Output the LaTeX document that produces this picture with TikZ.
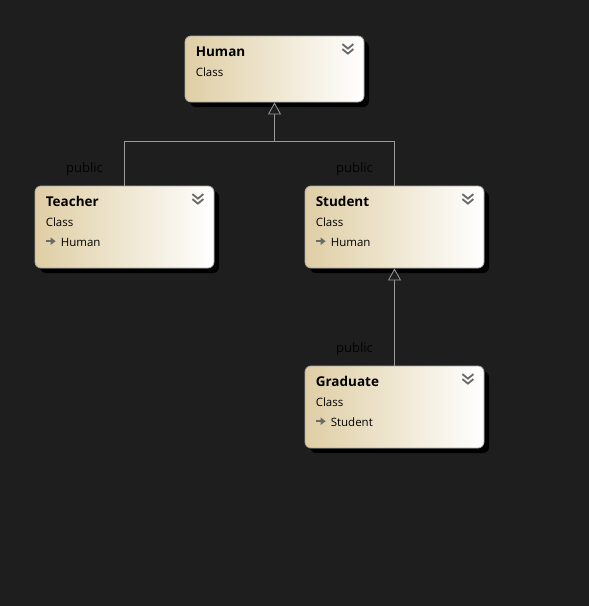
\documentclass[tikz,border=0pt]{standalone}
\usepackage{fontspec}
\setmainfont{Open Sans}
\usetikzlibrary{shadows,calc,arrows.meta}
\definecolor{bg}{HTML}{1E1E1E}
\definecolor{tan}{HTML}{DFCEA4}
\definecolor{edge}{HTML}{A8A8A8}
\definecolor{conn}{HTML}{9A9A9A}
\definecolor{icon}{HTML}{6A6A6A}
\tikzset{
  cls/.style={rectangle, rounded corners=6pt, minimum width=179pt, draw=edge, line width=0.8pt,
    left color=tan, right color=white, inner sep=0pt,
    drop shadow={shadow xshift=5pt, shadow yshift=-5pt, fill=black, opacity=1}},
  ttl/.style={anchor=base west, inner sep=0pt, font=\fontsize{13.5}{16}\selectfont\bfseries},
  sub/.style={anchor=base west, inner sep=0pt, font=\fontsize{11.5}{14}\selectfont},
  lbl/.style={anchor=base west, inner sep=0pt, font=\fontsize{13}{16}\selectfont, text=black!95!bg},
  conline/.style={draw=conn, line width=0.8pt},
  inh/.style={conline, -{Triangle[open, length=12pt, width=13pt, fill=bg]}},
}
\newcommand{\chev}[1]{%
  \draw[icon, line width=1.8pt, line join=miter] ($(#1.north east)+(-22,8.5)$) -- ++(5.5,4.5) -- ++(5.5,-4.5);
  \draw[icon, line width=1.8pt, line join=miter] ($(#1.north east)+(-22,13.5)$) -- ++(5.5,4.5) -- ++(5.5,-4.5);
}
\newcommand{\basearrow}[1]{%
  \fill[icon] ($(#1.north west)+(11,54.5)$) rectangle ++(6,2.2);
  \fill[icon] ($(#1.north west)+(16,51.8)$) -- ++(5,3.8) -- ++(-5,3.8) -- cycle;
}
\begin{document}
\begin{tikzpicture}[x=1pt,y=-1pt]
\fill[bg] (0,0) rectangle (589,606);
\useasboundingbox (0,0) rectangle (589,606);

\node[cls, minimum height=66pt] (human) at (274.5,69) {};
\node[cls, minimum height=82pt] (teacher) at (124.5,227) {};
\node[cls, minimum height=82pt] (student) at (394.5,227) {};
\node[cls, minimum height=82pt] (graduate) at (394.5,407) {};

\node[ttl] (humant) at ($(human.north west)+(11,21)$) {Human};
\node[sub] (humanc) at ($(human.north west)+(11,41)$) {Class};
\chev{human}

\node[ttl] (teachert) at ($(teacher.north west)+(11,21)$) {Teacher};
\node[sub] (teacherc) at ($(teacher.north west)+(11,41)$) {Class};
\node[sub] (teacherb) at ($(teacher.north west)+(26,60.5)$) {Human};
\chev{teacher}
\basearrow{teacher}

\node[ttl] (studentt) at ($(student.north west)+(11,21)$) {Student};
\node[sub] (studentc) at ($(student.north west)+(11,41)$) {Class};
\node[sub] (studentb) at ($(student.north west)+(26,60.5)$) {Human};
\chev{student}
\basearrow{student}

\node[ttl] (graduatet) at ($(graduate.north west)+(11,21)$) {Graduate};
\node[sub] (graduatec) at ($(graduate.north west)+(11,41)$) {Class};
\node[sub] (graduateb) at ($(graduate.north west)+(26,60.5)$) {Student};
\chev{graduate}
\basearrow{graduate}

\coordinate (j) at ($(human.south)+(0,39)$);
\draw[conline] (teacher.north) |- (j) -| (student.north);
\draw[inh] (j) -- (human.south);
\draw[inh] (graduate.north) -- (student.south);

\node[lbl] (p1) at (66,172) {public};
\node[lbl] (p2) at (336,172) {public};
\node[lbl] (p3) at (336,352) {public};
\end{tikzpicture}
\end{document}
